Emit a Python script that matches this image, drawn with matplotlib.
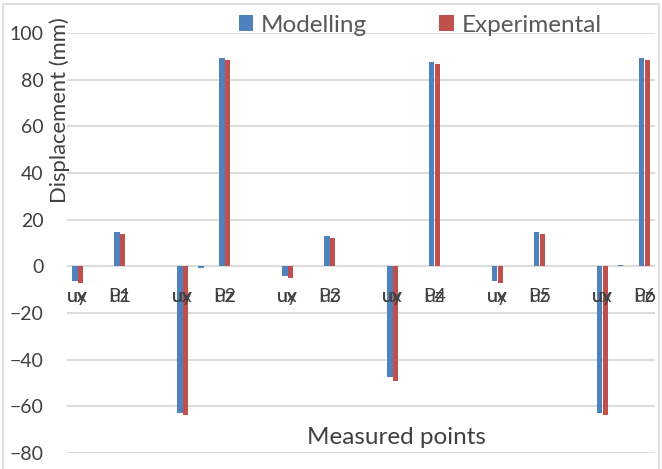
import matplotlib
matplotlib.use("Agg")
import matplotlib.pyplot as plt
import numpy as np
from matplotlib.patches import Rectangle

# measured points and displacement components
points = ["P1", "P2", "P3", "P4", "P5", "P6"]
components = ["ux", "uy", "uz"]

# displacement values (mm), one row per point: ux, uy, uz
modelling = [
    [-6.3, 0.0, 14.5],
    [-62.7, -0.8, 89.1],
    [-4.1, 0.0, 12.9],
    [-47.6, 0.0, 87.5],
    [-6.3, 0.2, 14.5],
    [-62.7, 0.7, 89.1],
]
experimental = [
    [-7.0, 0.0, 14.0],
    [-63.7, 0.0, 88.3],
    [-4.9, 0.0, 12.0],
    [-49.0, 0.0, 86.6],
    [-7.0, 0.0, 14.0],
    [-63.7, 0.0, 88.3],
]

blue = "#4F81BD"
red = "#C0504D"
text_col = "#404040"
grid_col = "#D9D9D9"

plt.rcParams["font.family"] = ["Lato", "DejaVu Sans"]

# each point takes 3 category slots plus 2 empty ones
slots_per_group = 5
x = []
for i in range(len(points)):
    for j in range(len(components)):
        x.append(i * slots_per_group + j)
x = np.array(x)
mod = np.array(modelling).ravel()
exp = np.array(experimental).ravel()

fig = plt.figure(figsize=(6.62, 4.69), dpi=100)
ax = fig.add_axes([67 / 662, 16 / 469, 588 / 662, 420 / 469])

w = 0.27
ax.bar(x - w / 2, mod, width=w, color=blue, label="Modelling", zorder=3)
ax.bar(x + w / 2, exp, width=w, color=red, label="Experimental", zorder=3)

ax.set_xlim(-0.5, len(points) * slots_per_group - 2 - 0.5)
ax.set_ylim(-80, 100)
ax.set_yticks(np.arange(-80, 101, 20))
ax.yaxis.grid(True, color=grid_col, linewidth=1.3, zorder=0)
ax.set_xticks([])
ax.tick_params(axis="y", length=0, labelsize=14, labelcolor=text_col, pad=17)
for s in ax.spines.values():
    s.set_visible(False)

# category labels, drawn on top of each other like in the original
for i, p in enumerate(points):
    x0 = i * slots_per_group
    ax.text(x0, -12.9, components[0], ha="center", va="center", fontsize=14, color=text_col)
    ax.text(x0, -12.9, components[1], ha="center", va="center", fontsize=14, color=text_col)
    ax.text(x0 + 2, -12.9, p, ha="center", va="center", fontsize=14, color=text_col)
    ax.text(x0 + 2, -12.9, components[2], ha="center", va="center", fontsize=14, color=text_col)

fig.text(60 / 662, 1 - 110 / 469, "Displacement (mm)", rotation=90, ha="center", va="center",
         fontsize=15.8, color=text_col)
fig.text(396 / 662, 1 - 437 / 469, "Measured points", ha="center", va="center",
         fontsize=17.5, color=text_col)

fig.legend(loc="center", bbox_to_anchor=(420 / 662, 1 - 25 / 469), ncol=2, frameon=False,
           fontsize=17.5, labelcolor="#595959", handlelength=0.6, handleheight=0.6,
           handletextpad=0.3, columnspacing=3.0)

fig.patches.append(Rectangle((3 / 662, -0.02), 656 / 662, 1.012, transform=fig.transFigure,
                             fill=False, edgecolor=grid_col, linewidth=1.2))

fig.savefig("out.png", dpi=100)
